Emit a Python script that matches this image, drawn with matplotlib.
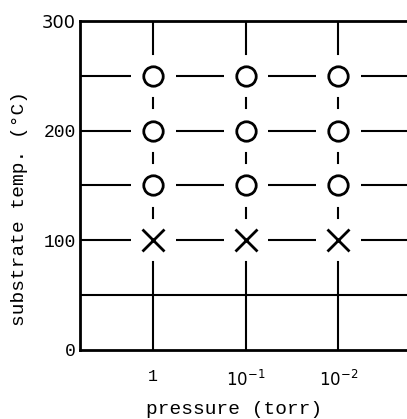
import matplotlib
matplotlib.use("Agg")
import matplotlib.pyplot as plt

pressure_labels = ["1", "$10^{-1}$", "$10^{-2}$"]
circle_temps = [250, 200, 150]
cross_temps = [100]
extra_hline = [50]
y_ticks = [0, 100, 200, 300]

fig = plt.figure(figsize=(4.07, 4.19), dpi=100)
ax = fig.add_axes([0.197, 0.165, 0.803, 0.785])
xs = list(range(len(pressure_labels)))
xlim = (-0.79, 2.74)
ylim = (0, 300)
ax.set_xlim(*xlim)
ax.set_ylim(*ylim)

lw = 1.5
gx = 0.24   # horizontal gap around markers (x units)
gv = 20     # vertical gap around outer markers (temp units)
dash = 9    # short vertical dash length between markers

all_temps = sorted(circle_temps + cross_temps, reverse=True)

for t in all_temps:
    pts = [xlim[0]]
    for x in xs:
        pts += [x - gx, x + gx]
    pts.append(xlim[1])
    for a, b in zip(pts[0::2], pts[1::2]):
        ax.plot([a, b], [t, t], color="black", lw=lw, solid_capstyle="butt")

for x in xs:
    ax.plot([x, x], [ylim[1], all_temps[0] + gv], color="black", lw=lw)
    for t1, t2 in zip(all_temps[:-1], all_temps[1:]):
        m = (t1 + t2) / 2
        ax.plot([x, x], [m - dash / 2, m + dash / 2], color="black", lw=lw)
    ax.plot([x, x], [all_temps[-1] - gv, ylim[0]], color="black", lw=lw)

for t in extra_hline:
    ax.plot(xlim, [t, t], color="black", lw=lw)

for t in circle_temps:
    ax.plot(xs, [t] * len(xs), "o", ms=14, mfc="white", mec="black", mew=2, ls="none")
for t in cross_temps:
    ax.plot(xs, [t] * len(xs), "x", ms=16, mec="black", mew=2, ls="none")

ax.spines["right"].set_visible(False)
for side in ["left", "top", "bottom"]:
    ax.spines[side].set_linewidth(2)

mono = "Liberation Mono"
ax.set_xticks(xs)
ax.set_xticklabels(pressure_labels, family=mono, fontsize=12)
ax.set_yticks(y_ticks)
ax.set_yticklabels([str(v) for v in y_ticks], family=mono, fontsize=13)
ax.tick_params(length=0, pad=3)
ax.tick_params(axis="x", pad=14)
ax.get_yticklabels()[-1].set_family("DejaVu Sans")
ax.get_yticklabels()[-1].set_fontsize(13)

ax.set_xlabel("pressure (torr)", family=mono, fontsize=14)
ax.xaxis.set_label_coords(0.47, -0.155)
ax.set_ylabel("substrate temp. (°C)", family=mono, fontsize=14)
ax.yaxis.set_label_coords(-0.16, 0.43)

fig.savefig("out.png", dpi=100)
